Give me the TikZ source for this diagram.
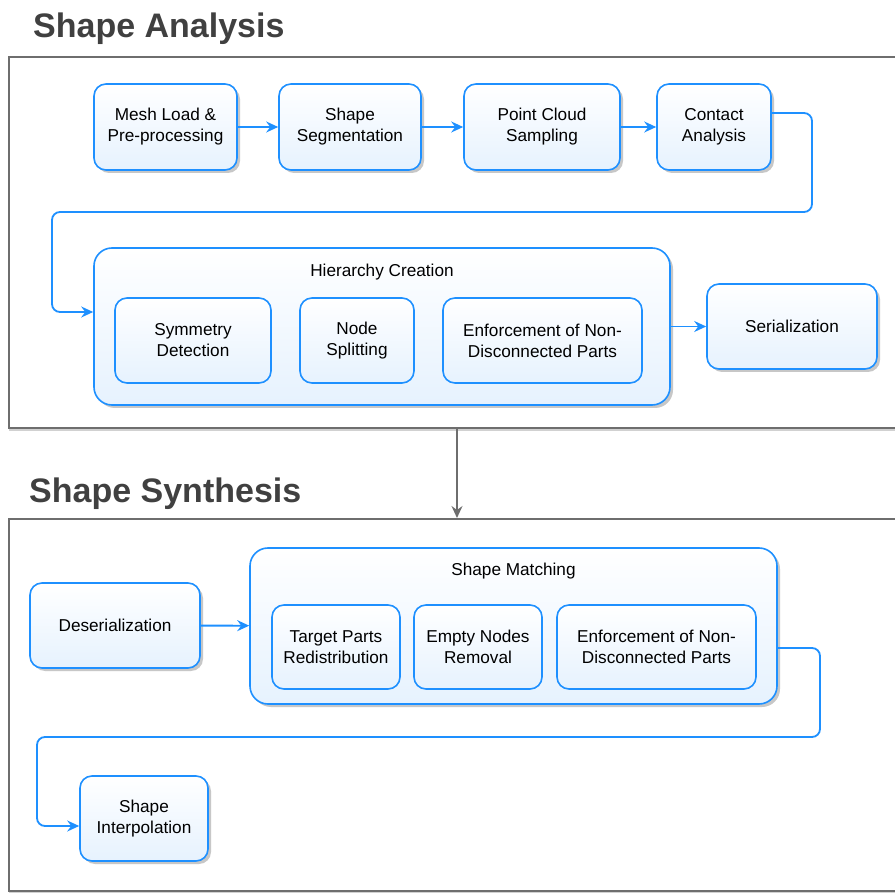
\documentclass[tikz,border=0pt]{standalone}
\usepackage{fontspec}
\setmainfont{Liberation Sans}
\usetikzlibrary{positioning, shadows, arrows.meta}
\definecolor{boxblue}{RGB}{30,144,255}
\definecolor{boxfill}{RGB}{230,242,254}
\definecolor{framegray}{RGB}{110,110,110}
\definecolor{titlegray}{RGB}{64,64,64}
\tikzset{
  box/.style={draw=boxblue, line width=1.6pt, rounded corners=12pt, % blue step box
    top color=white, bottom color=boxfill, align=center, inner sep=0pt,
    font=\fontsize{17.2}{21}\selectfont},
  proc/.style={box, drop shadow={shadow xshift=3pt, shadow yshift=-3pt, fill=black!22, opacity=1}},
  sub/.style={box},
  group/.style={box, rounded corners=18pt, drop shadow={shadow xshift=3pt, shadow yshift=-3pt, fill=black!22, opacity=1}},
  frame/.style={draw=framegray, line width=1.6pt, fill=white, inner sep=0pt, anchor=north west,
    drop shadow={shadow xshift=0pt, shadow yshift=-3pt, fill=black!18, opacity=1}},
  heading/.style={anchor=base west, inner sep=0pt, text=titlegray, font=\fontsize{34}{40}\selectfont\bfseries},
  flow/.style={draw=boxblue, line width=1.8pt, rounded corners=8pt,
    -{Stealth[length=12pt, width=11pt, inset=4pt]}},
  link/.style={draw=framegray, line width=1.6pt, -{Stealth[length=12pt, width=11pt, inset=4pt]}},
}

\begin{document}
\begin{tikzpicture}[x=1pt, y=-1pt]
  \clip (0,0) rectangle (895,893);
  \useasboundingbox (0,0) rectangle (895,893);

  % the two panels
  \node[frame, minimum width=910pt, minimum height=371pt] (analysis) at (8,56) {};
  \node[frame, minimum width=910pt, minimum height=372pt] (synthesis) at (8,518) {};
  \node[heading] (analysistitle) at (33,38) {Shape Analysis};
  \node[heading] (synthesistitle) at (29,502) {Shape Synthesis};

  % shape analysis
  \node[proc, minimum width=143pt, minimum height=86pt] (load) at (165.5,127) {Mesh Load \&\\Pre-processing};
  \node[proc, minimum width=142pt, minimum height=86pt, right=40.4pt of load] (seg) {Shape\\Segmentation};
  \node[proc, minimum width=156pt, minimum height=86pt, right=41.4pt of seg] (cloud) {Point Cloud\\Sampling};
  \node[proc, minimum width=114pt, minimum height=86pt, right=35.4pt of cloud] (contact) {Contact\\Analysis};

  \node[group, minimum width=576pt, minimum height=157pt] (hier) at (382,326.5) {};
  \node[font=\fontsize{17.2}{21}\selectfont] (hiertitle) at ([yshift=-25pt]hier.north) {Hierarchy Creation};
  \node[sub, minimum width=156pt, minimum height=85pt] (sym) at (193,340.5) {Symmetry\\Detection};
  \node[sub, minimum width=114pt, minimum height=85pt, right=27.4pt of sym] (split) {Node\\Splitting};
  \node[sub, minimum width=199pt, minimum height=85pt, right=27.4pt of split] (enf) {Enforcement of Non-\\Disconnected Parts};

  \node[proc, minimum width=170pt, minimum height=85pt] (serial) at (792,326.5) {Serialization};

  % shape synthesis
  \node[proc, minimum width=170pt, minimum height=85pt] (deser) at (115,625.5) {Deserialization};

  \node[group, minimum width=527pt, minimum height=156pt] (match) at (513.5,626) {};
  \node[font=\fontsize{17.2}{21}\selectfont] (matchtitle) at ([yshift=-24pt]match.north) {Shape Matching};
  \node[sub, minimum width=128pt, minimum height=84pt] (target) at (336,647) {Target Parts\\Redistribution};
  \node[sub, minimum width=128pt, minimum height=84pt, right=12.4pt of target] (empty) {Empty Nodes\\Removal};
  \node[sub, minimum width=199pt, minimum height=84pt, right=13.4pt of empty] (enftwo) {Enforcement of Non-\\Disconnected Parts};

  \node[proc, minimum width=128pt, minimum height=85pt] (interp) at (144,818.5) {Shape\\Interpolation};

  \coordinate (turnA) at (812,212);
  \coordinate (turnB) at (52,312);
  \coordinate (turnC) at (820,737);
  \coordinate (turnD) at (37,826);

  \draw[flow] (load) -- (seg);
  \draw[flow] (seg) -- (cloud);
  \draw[flow] (cloud) -- (contact);
  \draw[flow] ([yshift=14pt]contact.east) -| (turnA) -| (turnB) -- ([yshift=14.5pt]hier.west);
  \draw[flow] (hier) -- (serial);
  \draw[link] ([xshift=449pt]analysis.south west) -- ([xshift=449pt]synthesis.north west);
  \draw[flow] (deser) -- (match);
  \draw[flow] ([yshift=-22pt]match.east) -| (turnC) -| (turnD) -- ([yshift=-7.5pt]interp.west);
\end{tikzpicture}
\end{document}
